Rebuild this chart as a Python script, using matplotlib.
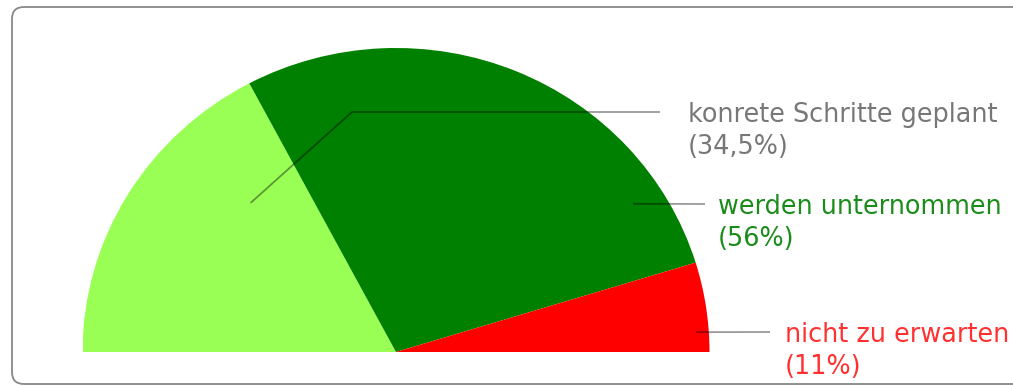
import numpy as np
import matplotlib
matplotlib.use('Agg')
import matplotlib.pyplot as plt
from matplotlib.patches import Wedge, FancyBboxPatch

# ── Data ───────────────────────────────────────────────────────────────────────
labels = ["konrete Schritte geplant", "werden unternommen", "nicht zu erwarten"]
values = [34.5, 56, 11]
value_text = ["34,5%", "56%", "11%"]

# ── Style / layout (pixels) ────────────────────────────────────────────────────
W, H = 1013, 387
slice_colors = ["#99ff55", "#008000", "#ff0000"]
text_colors = ["#777777", "#1a8c1a", "#ff3030"]
# (anchor in pie unit coords: angle deg, radius), elbow px, line end px, text x px
leaders = [
    dict(anchor=(133.4, 0.675), elbow=(352, 112), end=(660, 112), tx=688),
    dict(anchor=(32.8, 0.90), elbow=None, end=(705, 204), tx=718),
    dict(anchor=(3.9, 0.96), elbow=None, end=(770, 332), tx=785),
]
CX, CY, RX, RY = 396, 352, 313.5, 304
FS = 18.4
LINE_GAP = 32.5

fig = plt.figure(figsize=(W / 100, H / 100), dpi=100, facecolor='white')

# pie axes: unit half-disc stretched to the ellipse in pixels
pax = fig.add_axes([(CX - RX) / W, (H - CY) / H, 2 * RX / W, RY / H])
pax.set_xlim(-1, 1)
pax.set_ylim(0, 1)
pax.axis('off')

# slices start at the left (180°) and run clockwise, share of 100% of the half
start = 180.0
for v, c in zip(values, slice_colors):
    end = max(start - v / 100 * 180, 0.0)
    pax.add_patch(Wedge((0, 0), 1, end, start, facecolor=c, edgecolor='none'))
    start = end

# overlay axes in pixel coordinates for frame, leader lines and labels
ax = fig.add_axes([0, 0, 1, 1], facecolor='none')
ax.set_xlim(0, W)
ax.set_ylim(H, 0)
ax.axis('off')

ax.add_patch(FancyBboxPatch((12, 7), W + 20, H - 10,
                            boxstyle="round,pad=0,rounding_size=12",
                            facecolor='none', edgecolor='#888888', lw=1.3))

for lab, vt, tc, ld in zip(labels, value_text, text_colors, leaders):
    ang, r = ld['anchor']
    ax0 = CX + RX * r * np.cos(np.radians(ang))
    ay0 = CY - RY * r * np.sin(np.radians(ang))
    xs, ys = [ax0], [ay0]
    if ld['elbow'] is not None:
        xs.append(ld['elbow'][0]); ys.append(ld['elbow'][1])
    xs.append(ld['end'][0]); ys.append(ld['end'][1])
    ax.plot(xs, ys, color='black', alpha=0.4, lw=1.3, solid_capstyle='butt')
    base = ld['end'][1] + 10
    ax.text(ld['tx'], base, lab, color=tc, fontsize=FS, ha='left', va='baseline')
    ax.text(ld['tx'], base + LINE_GAP, f"({vt})", color=tc, fontsize=FS,
            ha='left', va='baseline')

fig.savefig('out.png', dpi=100, facecolor='white')
